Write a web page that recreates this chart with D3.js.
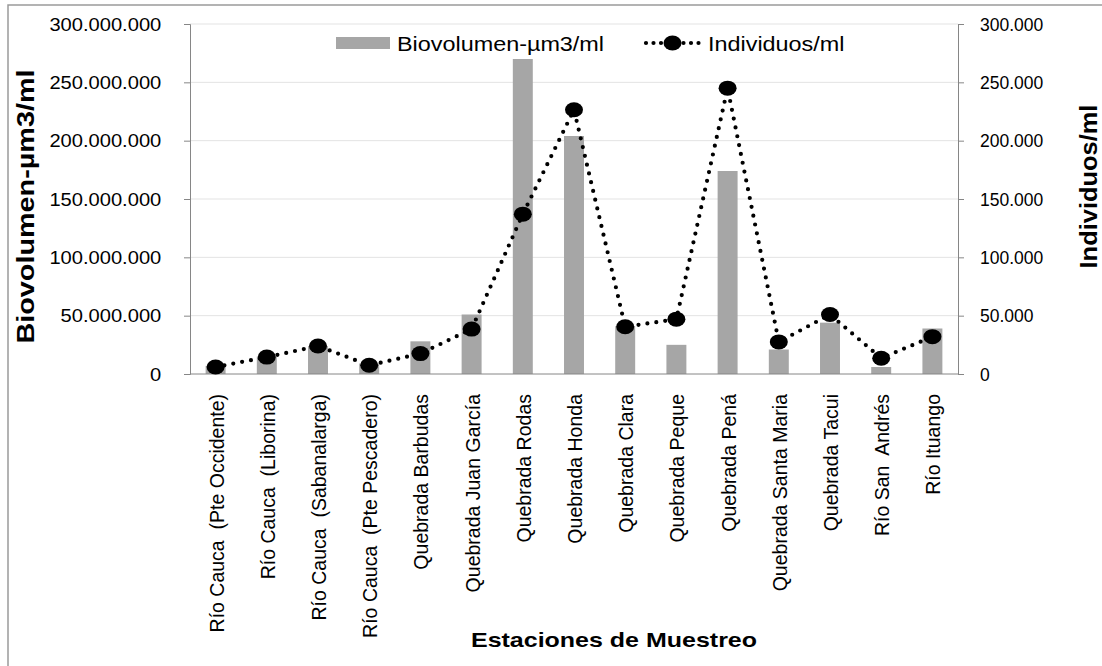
<!DOCTYPE html>
<html>
<head>
<meta charset="utf-8">
<script src="https://cdn.jsdelivr.net/npm/d3@7"></script>
<style>
  html, body { margin: 0; padding: 0; background: #fff; }
  svg { display: block; font-family: "Liberation Sans", Arial, sans-serif; }
  text { white-space: pre; }
</style>
</head>
<body>
<svg id="chart" width="1102" height="666"></svg>
<script>
// Sampling stations along the river basin
const stations = [
  "Río Cauca  (Pte Occidente)",
  "Río Cauca  (Liborina)",
  "Río Cauca  (Sabanalarga)",
  "Río Cauca  (Pte Pescadero)",
  "Quebrada Barbudas",
  "Quebrada Juan García",
  "Quebrada Rodas",
  "Quebrada Honda",
  "Quebrada Clara",
  "Quebrada Peque",
  "Quebrada Pená",
  "Quebrada Santa Maria",
  "Quebrada Tacui",
  "Río San  Andrés",
  "Río Ituango"
];

// Biovolume per station (µm3/ml)
const biovolumen = [
  7000000, 15000000, 24000000, 9000000, 28000000, 51000000, 270000000,
  204000000, 41000000, 25000000, 174000000, 21000000, 44000000, 6000000, 39000000
];

// Cell counts per station (individuals/ml)
const individuos = [
  6000, 14500, 24000, 7500, 17500, 38500, 137000,
  226500, 40500, 47000, 245000, 27500, 51000, 13500, 32000
];

const leftTicks = [0, 50000000, 100000000, 150000000, 200000000, 250000000, 300000000];
const rightTicks = [0, 50000, 100000, 150000, 200000, 250000, 300000];

const legendLabels = ["Biovolumen-µm3/ml", "Individuos/ml"];
const axisTitles = { left: "Biovolumen-µm3/ml", right: "Individuos/ml", bottom: "Estaciones de Muestreo" };

// Number format with "." as thousands separator
const esLocale = d3.formatLocale({ decimal: ",", thousands: ".", grouping: [3], currency: ["", ""] });
const fmt = esLocale.format(",d");

const svg = d3.select("#chart");
const plot = { left: 190, right: 958, top: 24, bottom: 374 };

const AXIS = "#868686";
const GRID = "#e3e3e3";
const BAR = "#a6a6a6";

// Outer frame (top and left edges)
svg.append("path")
  .attr("d", "M8,666V5H1102")
  .attr("fill", "none")
  .attr("stroke", "#9a9a9a")
  .attr("stroke-width", 1.5);

const x = d3.scaleBand().domain(stations).range([plot.left, plot.right]).padding(0);
const yL = d3.scaleLinear().domain([0, 300000000]).range([plot.bottom, plot.top]);
const yR = d3.scaleLinear().domain([0, 300000]).range([plot.bottom, plot.top]);
const cx = d => x(d) + x.bandwidth() / 2;
const barW = x.bandwidth() * 0.39;

// Horizontal gridlines
svg.append("g")
  .selectAll("line")
  .data(leftTicks.filter(t => t > 0))
  .join("line")
  .attr("x1", plot.left).attr("x2", plot.right)
  .attr("y1", d => yL(d)).attr("y2", d => yL(d))
  .attr("stroke", GRID).attr("stroke-width", 1);

// Bars: biovolume
svg.append("g")
  .selectAll("rect")
  .data(stations)
  .join("rect")
  .attr("x", (d, i) => cx(d) - barW / 2)
  .attr("width", barW)
  .attr("y", (d, i) => yL(biovolumen[i]))
  .attr("height", (d, i) => yL(0) - yL(biovolumen[i]))
  .attr("fill", BAR);

// Left axis
const gL = svg.append("g")
  .attr("transform", `translate(${plot.left},0)`)
  .call(d3.axisLeft(yL).tickValues(leftTicks).tickFormat(fmt).tickSize(6).tickPadding(19));
gL.select(".domain").attr("stroke", AXIS);
gL.selectAll(".tick line").attr("stroke", AXIS);
gL.selectAll(".tick text")
  .attr("fill", "#000")
  .style("font-size", "17.5px")
  .style("font-family", "'Liberation Sans', Arial, sans-serif")
  .attr("transform", "scale(1.15,1)")
  .attr("dy", "0.36em");

// Right axis
const gR = svg.append("g")
  .attr("transform", `translate(${plot.right},0)`)
  .call(d3.axisRight(yR).tickValues(rightTicks).tickFormat(fmt).tickSize(6).tickPadding(16));
gR.select(".domain").attr("stroke", AXIS);
gR.selectAll(".tick line").attr("stroke", AXIS);
gR.selectAll(".tick text")
  .attr("fill", "#000")
  .style("font-size", "17.5px")
  .style("font-family", "'Liberation Sans', Arial, sans-serif")
  .attr("dy", "0.36em");

// Bottom axis line
svg.append("line")
  .attr("x1", plot.left).attr("x2", plot.right)
  .attr("y1", plot.bottom).attr("y2", plot.bottom)
  .attr("stroke", AXIS).attr("stroke-width", 1);

// Station labels, rotated
svg.append("g")
  .selectAll("text")
  .data(stations)
  .join("text")
  .attr("transform", d => `translate(${cx(d) + 1},${plot.bottom + 20}) rotate(-90)`)
  .attr("text-anchor", "end")
  .attr("dy", "0.36em")
  .style("font-size", "19.5px")
  .attr("fill", "#000")
  .text(d => d);

// Dotted line: individuals
const line = d3.line()
  .x((d, i) => cx(stations[i]))
  .y(d => yR(d));

svg.append("path")
  .datum(individuos)
  .attr("d", line)
  .attr("fill", "none")
  .attr("stroke", "#000")
  .attr("stroke-width", 4.2)
  .attr("stroke-linecap", "round")
  .attr("stroke-dasharray", "0 9");

svg.append("g")
  .selectAll("ellipse")
  .data(individuos)
  .join("ellipse")
  .attr("cx", (d, i) => cx(stations[i]))
  .attr("cy", d => yR(d))
  .attr("rx", 9)
  .attr("ry", 7.5)
  .attr("fill", "#000");

// Axis titles
svg.append("text")
  .attr("transform", `translate(34,${(68 + 345) / 2}) rotate(-90) scale(1.2,1)`)
  .attr("text-anchor", "middle")
  .style("font-size", "24px")
  .style("font-weight", "bold")
  .text(axisTitles.left);

svg.append("text")
  .attr("transform", `translate(1097,${(106 + 267) / 2}) rotate(-90) scale(1.06,1)`)
  .attr("text-anchor", "middle")
  .style("font-size", "24px")
  .style("font-weight", "bold")
  .text(axisTitles.right);

svg.append("text")
  .attr("transform", "translate(614,647) scale(1.19,1)")
  .attr("text-anchor", "middle")
  .style("font-size", "21px")
  .style("font-weight", "bold")
  .text(axisTitles.bottom);

// Legend
const lg = svg.append("g");
lg.append("rect")
  .attr("x", 336).attr("y", 37).attr("width", 54).attr("height", 12)
  .attr("fill", BAR);
lg.append("text")
  .attr("transform", "translate(397,51) scale(1.2,1)")
  .style("font-size", "19.5px")
  .text(legendLabels[0]);
lg.append("line")
  .attr("x1", 646).attr("x2", 699).attr("y1", 43).attr("y2", 43)
  .attr("stroke", "#000").attr("stroke-width", 4.2)
  .attr("stroke-linecap", "round").attr("stroke-dasharray", "0 7.5");
lg.append("ellipse")
  .attr("cx", 672.5).attr("cy", 43).attr("rx", 9).attr("ry", 7.5)
  .attr("fill", "#000");
lg.append("text")
  .attr("transform", "translate(708,51) scale(1.2,1)")
  .style("font-size", "19.5px")
  .text(legendLabels[1]);
</script>
</body>
</html>
